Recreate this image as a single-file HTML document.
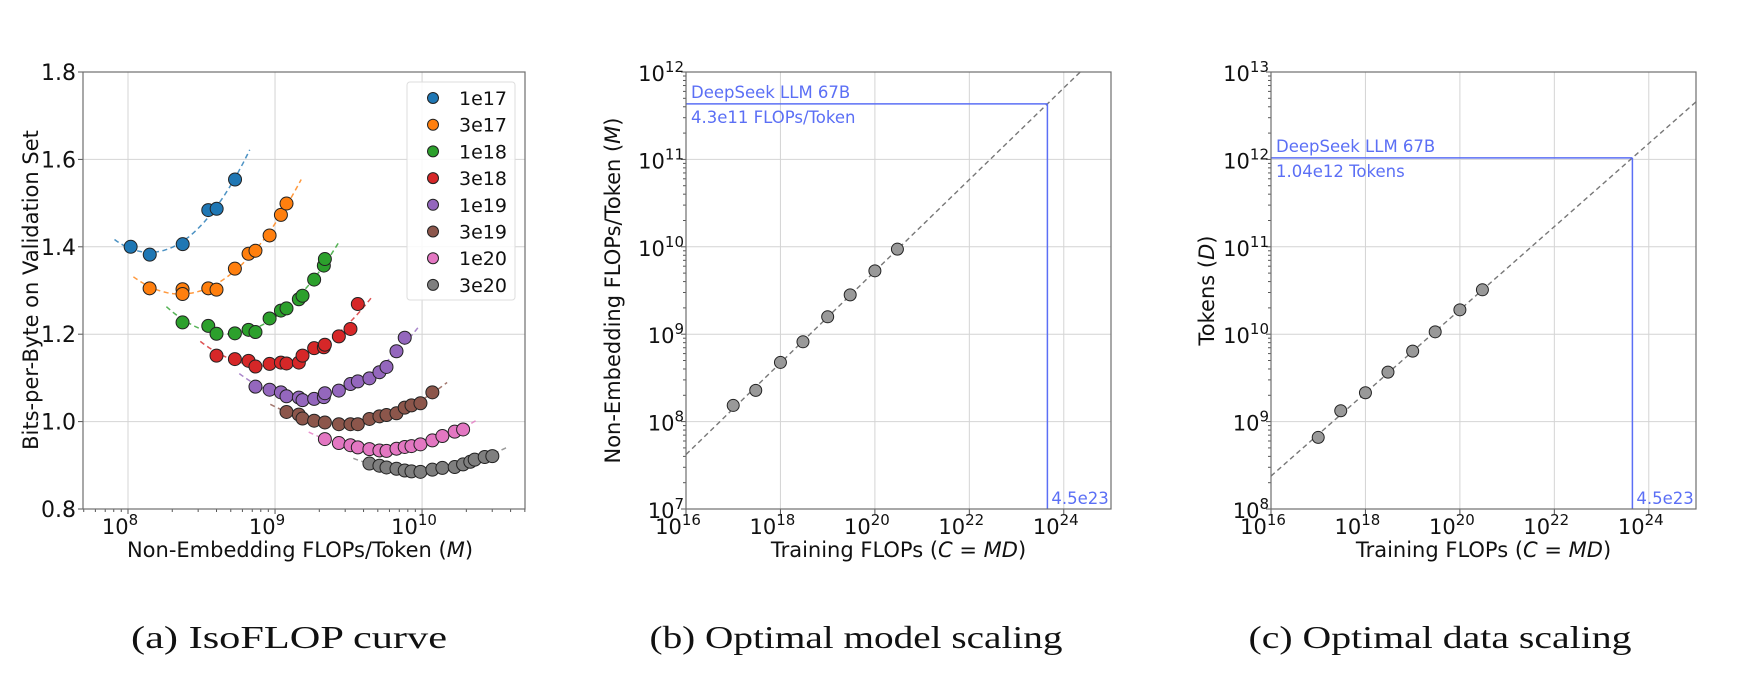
<!DOCTYPE html>
<html><head><meta charset="utf-8"><style>
body{margin:0;background:#fff;}
svg{display:block;font-family:"DejaVu Sans","Liberation Sans",sans-serif;}
</style></head><body>
<svg id="fig" width="1741" height="694" viewBox="0 0 1741 694" xmlns="http://www.w3.org/2000/svg"></svg>
<script>
// ---- Panel (a) data: log10(M) and bits-per-byte ----
const seriesNames = ["1e17","3e17","1e18","3e18","1e19","3e19","1e20","3e20"];
const seriesColors = ["#1f77b4","#ff7f0e","#2ca02c","#d62728","#9467bd","#8c564b","#e377c2","#7f7f7f"];
const logM_1e17 = [8.018,8.148,8.372,8.546,8.603,8.728];
const bpb_1e17  = [1.400,1.382,1.406,1.484,1.487,1.554];
const logM_3e17 = [8.147,8.371,8.371,8.546,8.602,8.727,8.820,8.867,8.963,9.040,9.078];
const bpb_3e17  = [1.305,1.303,1.292,1.305,1.302,1.350,1.384,1.391,1.426,1.473,1.499];
const logM_1e18 = [8.371,8.546,8.602,8.727,8.820,8.867,8.963,9.040,9.078,9.162,9.187,9.266,9.332,9.339];
const bpb_1e18  = [1.227,1.219,1.201,1.202,1.210,1.205,1.236,1.254,1.259,1.280,1.288,1.325,1.357,1.372];
const logM_3e18 = [8.602,8.727,8.820,8.867,8.963,9.040,9.078,9.162,9.187,9.266,9.332,9.339,9.434,9.513,9.563];
const bpb_3e18  = [1.151,1.143,1.139,1.126,1.132,1.135,1.133,1.135,1.151,1.168,1.170,1.176,1.195,1.212,1.269];
const logM_1e19 = [8.867,8.963,9.040,9.078,9.162,9.187,9.266,9.332,9.339,9.434,9.513,9.563,9.642,9.710,9.758,9.826,9.882];
const bpb_1e19  = [1.080,1.073,1.067,1.058,1.055,1.049,1.052,1.056,1.065,1.071,1.086,1.092,1.099,1.113,1.125,1.161,1.192];
const logM_3e19 = [9.078,9.162,9.187,9.266,9.339,9.434,9.513,9.563,9.642,9.710,9.758,9.826,9.882,9.928,9.989,10.070];
const bpb_3e19  = [1.022,1.016,1.007,1.002,0.998,0.994,0.994,0.994,1.006,1.012,1.015,1.019,1.032,1.037,1.042,1.067];
const logM_1e20 = [9.339,9.434,9.513,9.563,9.642,9.710,9.758,9.826,9.882,9.928,9.989,10.070,10.138,10.222,10.279];
const bpb_1e20  = [0.960,0.951,0.946,0.941,0.937,0.934,0.933,0.938,0.942,0.944,0.948,0.957,0.967,0.977,0.982];
const logM_3e20 = [9.642,9.710,9.758,9.826,9.882,9.928,9.989,10.070,10.138,10.222,10.279,10.328,10.358,10.426,10.478];
const bpb_3e20  = [0.904,0.899,0.895,0.892,0.888,0.886,0.885,0.890,0.894,0.896,0.902,0.908,0.913,0.919,0.921];
const aTicksY = [0.8,1.0,1.2,1.4,1.6,1.8];
const aTickLabelsY = ["0.8","1.0","1.2","1.4","1.6","1.8"];
const aTicksX = [8,9,10];
// ---- Panel (b)/(c) data: log10 of compute, model scale, data scale ----
const logC = [17.0,17.477,18.0,18.477,19.0,19.477,20.0,20.477];
const logMopt = [8.185,8.357,8.677,8.913,9.199,9.450,9.725,9.973];
const logDopt = [8.819,9.124,9.330,9.566,9.806,10.027,10.279,10.508];
const fitM = [0.1715, 0.5243];  // M = a * C^b
const fitD = [5.8316, 0.4757];  // D = a * C^b
const targetC = 4.5e23;
const bTicksX = [16,18,20,22,24];
const bTicksY = [7,8,9,10,11,12];
const cTicksY = [8,9,10,11,12,13];

const NS="http://www.w3.org/2000/svg";
const svg=document.getElementById('fig');
function el(tag,attrs,parent,text){const e=document.createElementNS(NS,tag);for(const k in attrs)e.setAttribute(k,attrs[k]);if(text!==undefined)e.textContent=text;(parent||svg).appendChild(e);return e;}

function frame(g,x0,y0,x1,y1){
  el('rect',{x:x0,y:y0,width:x1-x0,height:y1-y0,fill:'none',stroke:'#6e6e6e','stroke-width':1.2},g);
}
function powLabel(g,x,y,exp,anchor){
  const t=el('text',{x:x,y:y,'font-size':21,fill:'#111','text-anchor':anchor},g);
  el('tspan',{},t,'10');
  el('tspan',{dy:-9,'font-size':15},t,String(exp));
  return t;
}

// ================= Panel A =================
const A={x0:83,x1:525,y0:72,y1:509,lx0:7.694,lx1:10.70,v0:0.8,v1:1.8};
function axX(l){return A.x0+(l-A.lx0)/(A.lx1-A.lx0)*(A.x1-A.x0);}
function ayY(v){return A.y1-(v-A.v0)/(A.v1-A.v0)*(A.y1-A.y0);}
const gA=el('g',{});


aTicksY.forEach((v,i)=>{
  const y=ayY(v);
  el('line',{x1:A.x0,x2:A.x1,y1:y,y2:y,stroke:'#d4d4d4','stroke-width':1},gA);
  el('line',{x1:A.x0-5,x2:A.x0,y1:y,y2:y,stroke:'#555'},gA);
  const t=el('text',{x:A.x0-7,y:y+8,'font-size':22,'text-anchor':'end',fill:'#111'},gA,aTickLabelsY[i]);
  
  
});
aTicksX.forEach(l=>{
  const x=axX(l);
  el('line',{x1:x,x2:x,y1:A.y0,y2:A.y1,stroke:'#d4d4d4','stroke-width':1},gA);
  el('line',{x1:x,x2:x,y1:A.y1,y2:A.y1+5,stroke:'#555'},gA);
  const t=powLabel(gA,x-8,A.y1+25,l,'middle');
  
  
});
for(let d=7;d<=10;d++)for(let k=2;k<=9;k++){const l=d+Math.log10(k);if(l>A.lx0&&l<A.lx1){const x=axX(l);el('line',{x1:x,x2:x,y1:A.y1,y2:A.y1+3,stroke:'#555'},gA);}}
const aX=[logM_1e17,logM_3e17,logM_1e18,logM_3e18,logM_1e19,logM_3e19,logM_1e20,logM_3e20];
const aY=[bpb_1e17,bpb_3e17,bpb_1e18,bpb_3e18,bpb_1e19,bpb_3e19,bpb_1e20,bpb_3e20];
function quadFit(xs,ys){
  let n=xs.length,S=[0,0,0,0,0],T=[0,0,0];
  const mx=xs.reduce((a,b)=>a+b,0)/n;
  xs.forEach((x0,i)=>{const x=x0-mx;let p=1;for(let k=0;k<5;k++){S[k]+=p;if(k<3)T[k]+=p*ys[i];p*=x;}});
  const M=[[S[0],S[1],S[2],T[0]],[S[1],S[2],S[3],T[1]],[S[2],S[3],S[4],T[2]]];
  for(let i=0;i<3;i++){for(let j=i+1;j<3;j++){const f=M[j][i]/M[i][i];for(let k=i;k<4;k++)M[j][k]-=f*M[i][k];}}
  const c=[0,0,0];for(let i=2;i>=0;i--){let s=M[i][3];for(let k=i+1;k<3;k++)s-=M[i][k]*c[k];c[i]=s/M[i][i];}
  return x=>{const u=x-mx;return c[0]+c[1]*u+c[2]*u*u;};
}
aX.forEach((xs,si)=>{
  const f=quadFit(xs,aY[si]);
  const lo=Math.min(...xs)-0.11, hi=Math.max(...xs)+0.1;
  let d='';
  for(let i=0;i<=60;i++){const l=lo+(hi-lo)*i/60;d+=(i?'L':'M')+axX(l).toFixed(1)+','+ayY(f(l)).toFixed(1);}
  const p=el('path',{d:d,fill:'none',stroke:seriesColors[si],'stroke-width':1.5,'stroke-dasharray':'5,3.5',opacity:0.8},gA);
  
  
});
aX.forEach((xs,si)=>{
  xs.forEach((l,i)=>{
    const c=el('circle',{cx:axX(l),cy:ayY(aY[si][i]),r:6.5,fill:seriesColors[si],stroke:'#222','stroke-width':1},gA);
    
    
  });
});
frame(gA,A.x0,A.y0,A.x1,A.y1);
const lg=el('g',{});


el('rect',{x:407,y:82,width:108,height:218,rx:3,fill:'#fff','fill-opacity':0.85,stroke:'#ddd'},lg);
seriesNames.forEach((n,i)=>{
  const y=98+i*26.7;
  const e=el('g',{},lg);
  
  
  el('circle',{cx:433,cy:y,r:5.5,fill:seriesColors[i],stroke:'#222','stroke-width':1},e);
  el('text',{x:507,y:y+7,'font-size':19,'text-anchor':'end',fill:'#111'},e,n);
});
let t=el('text',{x:0,y:0,'font-size':21,'text-anchor':'middle',fill:'#111',transform:'translate(38,290) rotate(-90)'},svg,'Bits-per-Byte on Validation Set');

t=el('text',{x:300,y:557,'font-size':21,'text-anchor':'middle',fill:'#111'},svg);
el('tspan',{},t,'Non-Embedding FLOPs/Token (');el('tspan',{'font-style':'italic'},t,'M');el('tspan',{},t,')');


// ================= Panels B and C =================
function scalingPanel(P,name,logY,fit,yTicks,ylabelParts,ylabelX,textTop,textBot){
  const g=el('g',{});
  
  
  const sx=l=>P.x0+(l-16)/9*(P.x1-P.x0);
  const sy=l=>P.y1-(l-P.ly0)/5*(P.y1-P.y0);
  bTicksX.forEach(l=>{const x=sx(l);
    el('line',{x1:x,x2:x,y1:P.y0,y2:P.y1,stroke:'#d4d4d4'},g);
    el('line',{x1:x,x2:x,y1:P.y1,y2:P.y1+5,stroke:'#555'},g);
    const tt=powLabel(g,x-8,P.y1+25,l,'middle');
    
  });
  yTicks.forEach(l=>{const y=sy(l);
    el('line',{x1:P.x0,x2:P.x1,y1:y,y2:y,stroke:'#d4d4d4'},g);
    el('line',{x1:P.x0-5,x2:P.x0,y1:y,y2:y,stroke:'#555'},g);
    const tt=powLabel(g,P.x0-2,y+9,l,'end');
    
  });
  for(let d=P.ly0;d<P.ly0+5;d++)for(let k=2;k<=9;k++){const y=sy(d+Math.log10(k));el('line',{x1:P.x0-3,x2:P.x0,y1:y,y2:y,stroke:'#555'},g);}
  const la=Math.log10(fit[0]),b=fit[1];
  let xs0=16, xs1=25, ye0=la+b*xs0, ye1=la+b*xs1;
  if(ye1>P.ly0+5){xs1=(P.ly0+5-la)/b;ye1=P.ly0+5;}
  const fl=el('line',{x1:sx(xs0),y1:sy(ye0),x2:sx(xs1),y2:sy(ye1),stroke:'#777','stroke-width':1.4,'stroke-dasharray':'5,3.5'},g);
  
  const lc=Math.log10(targetC), ly=la+b*lc;
  const blue='#5b6ff5';
  const h=el('line',{x1:P.x0,y1:sy(ly),x2:sx(lc),y2:sy(ly),stroke:blue,'stroke-width':1.5},g);
  
  const v=el('line',{x1:sx(lc),y1:sy(ly),x2:sx(lc),y2:P.y1,stroke:blue,'stroke-width':1.5},g);
  
  let a1=el('text',{x:P.x0+5,y:sy(ly)-6,'font-size':16.5,fill:blue},g,textTop);
  
  let a2=el('text',{x:P.x0+5,y:sy(ly)+19,'font-size':16.5,fill:blue},g,textBot);
  
  let a3=el('text',{x:sx(lc)+4,y:P.y1-5,'font-size':16.5,fill:blue},g,'4.5e23');
  
  logC.forEach((l,i)=>{
    const c=el('circle',{cx:sx(l),cy:sy(logY[i]),r:6,fill:'#999',stroke:'#222','stroke-width':1},g);
    
  });
  frame(g,P.x0,P.y0,P.x1,P.y1);
  let yl=el('text',{x:0,y:0,'font-size':21,'text-anchor':'middle',fill:'#111',transform:'translate('+ylabelX+','+((P.y0+P.y1)/2)+') rotate(-90)'},svg);
  el('tspan',{},yl,ylabelParts[0]);el('tspan',{'font-style':'italic'},yl,ylabelParts[1]);el('tspan',{},yl,')');
  
  let xl=el('text',{x:(P.x0+P.x1)/2,y:557,'font-size':21,'text-anchor':'middle',fill:'#111'},svg);
  el('tspan',{},xl,'Training FLOPs (');el('tspan',{'font-style':'italic'},xl,'C');el('tspan',{},xl,' = ');
  el('tspan',{'font-style':'italic'},xl,'MD');el('tspan',{},xl,')');
  
}
scalingPanel({x0:686,x1:1111,y0:72,y1:509,ly0:7},'model-scaling-chart',logMopt,fitM,bTicksY,['Non-Embedding FLOPs/Token (','M'],620,'DeepSeek LLM 67B','4.3e11 FLOPs/Token');
scalingPanel({x0:1271,x1:1696,y0:72,y1:509,ly0:8},'data-scaling-chart',logDopt,fitD,cTicksY,['Tokens (','D'],1214,'DeepSeek LLM 67B','1.04e12 Tokens');

const caps=[[289,'(a)  IsoFLOP curve','caption-a',316],[856,'(b)  Optimal model scaling','caption-b',413],[1440,'(c)  Optimal data scaling','caption-c',383]];
caps.forEach(c=>{
  const e=el('text',{x:c[0],y:648,'font-size':32,'text-anchor':'middle',fill:'#111','font-family':'"Liberation Serif",serif',textLength:c[3],lengthAdjust:'spacingAndGlyphs'},svg,c[1]);
  
});
</script>
</body></html>
